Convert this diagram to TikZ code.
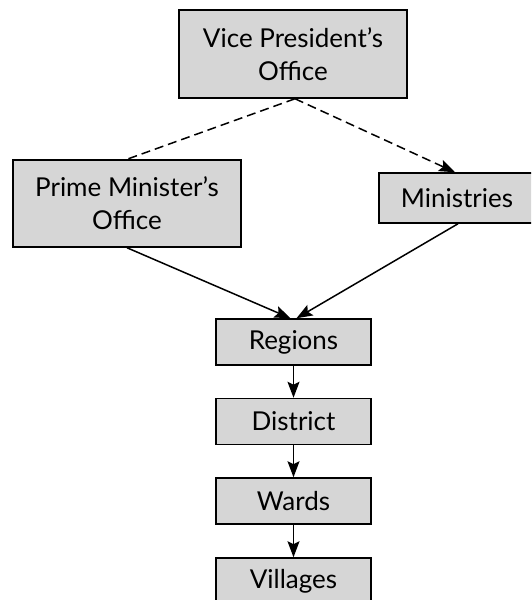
\documentclass[tikz,border=0pt]{standalone}
\usepackage{fontspec}
\setmainfont{Lato}
\usetikzlibrary{arrows.meta}
\begin{document}
\begin{tikzpicture}[x=1pt,y=-1pt,
  box/.style={draw=black, line width=1.5pt, fill=gray!32, rectangle, inner sep=0pt,
    align=center, font=\fontsize{26}{33}\selectfont},
  conn/.style={line width=1.5pt, draw=black},
  arrowtip/.style={-{Stealth[length=16pt,width=12pt,inset=3pt]}},
  dashline/.style={dash pattern=on 9pt off 5pt}]
\useasboundingbox (0,0) rectangle (531,600);
\clip (0,0) rectangle (531,600);
\node[box, minimum width=228pt, minimum height=88pt] (vp) at (293,54) {Vice President's\\Office};
\node[box, minimum width=228pt, minimum height=87pt] (pm) at (127,203.5) {Prime Minister's\\Office};
\node[box, minimum width=156pt, minimum height=50pt] (min) at (457,198) {Ministries};
\node[box, minimum width=155pt, minimum height=46pt] (reg) at (293.5,342) {Regions};
\node[box, minimum width=155pt, minimum height=46pt] (dis) at (293.5,421.5) {District};
\node[box, minimum width=155pt, minimum height=46pt] (war) at (293.5,501) {Wards};
\node[box, minimum width=155pt, minimum height=46pt] (vil) at (293.5,581) {Villages};
\coordinate (vpb) at ([xshift=2pt]vp.south);
\draw[conn, dashline] (vpb) -- (pm.north);
\draw[conn, dashline, arrowtip] (vpb) -- ([xshift=-2pt]min.north);
\draw[conn, arrowtip] (pm.south) -- ([xshift=-3pt]reg.north);
\draw[conn, arrowtip] ([xshift=1pt]min.south) -- ([xshift=3pt]reg.north);
\draw[conn, arrowtip] (reg.south) -- (dis.north);
\draw[conn, arrowtip] (dis.south) -- (war.north);
\draw[conn, arrowtip] (war.south) -- (vil.north);
\end{tikzpicture}
\end{document}
